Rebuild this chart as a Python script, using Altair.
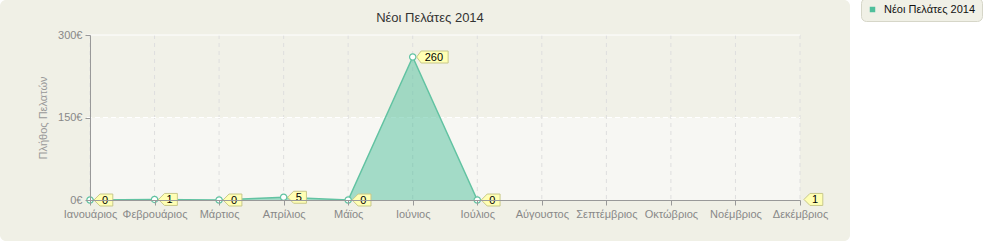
import altair as alt
import pandas as pd

# Monthly new customers for 2014 (Aug–Nov have no entries)
months = ["Ιανουάριος", "Φεβρουάριος", "Μάρτιος", "Απρίλιος", "Μάϊος", "Ιούνιος",
          "Ιούλιος", "Αύγουστος", "Σεπτέμβριος", "Οκτώβριος", "Νοέμβριος", "Δεκέμβριος"]
customers = [0, 1, 0, 5, 0, 260, 0, None, None, None, None, 1]
y_ticks = [0, 150, 300]
band_edges = [0, 150, 300]
series_name = "Νέοι Πελάτες 2014"
y_title = "Πλήθος Πελατών"

FONT = "Liberation Sans"
PANEL = "#f0f0e6"
TEAL_LINE = "#62c3a2"
TEAL = "#4fbf9b"

df = pd.DataFrame({"month": months, "value": customers})
df["has"] = df["value"].notna()
# a point belongs to the drawn line when a neighbour also has a value
df["connected"] = df["has"] & (df["has"].shift(1, fill_value=False) | df["has"].shift(-1, fill_value=False))
line_df = df[df["connected"]].copy()
line_df["series"] = series_name
lab_df = df[df["has"]].copy()
lab_df["text"] = lab_df["value"].astype(int).astype(str)
# callout outline: left-pointing tag, wider for longer numbers
short_tag = "M0.33,0 L0.83,-0.5 L1.9,-0.5 L1.9,0.5 L0.83,0.5 Z"
long_tag = "M0.33,0 L0.7,-0.5 L2.95,-0.5 L2.95,0.5 L0.7,0.5 Z"
lab_df["tag"] = [long_tag if len(t) > 1 else short_tag for t in lab_df["text"]]

bands = pd.DataFrame({"lo": band_edges[:-1], "hi": band_edges[1:],
                      "shade": ["#f7f7f3", "#f1f1e8"]})

x_scale = alt.Scale(type="point", domain=months, padding=0)
y_scale = alt.Scale(domain=[0, 300])
x_axis = alt.Axis(title=None, grid=False, labelAngle=0, zindex=1,
                  domainColor="#999999", tickColor="#999999", tickSize=5,
                  labelColor="#888888", labelFont=FONT, labelFontSize=11,
                  labelPadding=3)
y_axis = alt.Axis(title=y_title, values=y_ticks, grid=False, zindex=1,
                  labelExpr="datum.value + '€'",
                  domainColor="#999999", tickColor="#999999", tickSize=5,
                  labelColor="#888888", labelFont=FONT, labelFontSize=11,
                  labelPadding=3, titleColor="#999999", titleFont=FONT,
                  titleFontSize=11, titleFontWeight="normal", titlePadding=9)


def xm(field="month:N"):
    return alt.X(field, scale=x_scale, sort=months, axis=x_axis)


def yv(field="value:Q"):
    return alt.Y(field, scale=y_scale, axis=y_axis)


panel = alt.Chart(pd.DataFrame({"k": [0]})).mark_rect(
    fill=PANEL, cornerRadius=6
).encode(x=alt.value(-90), x2=alt.value(760), y=alt.value(-35), y2=alt.value(206))

heading = alt.Chart(pd.DataFrame({"t": [series_name]})).mark_text(
    font=FONT, fontSize=13, color="#333333", align="center", baseline="alphabetic"
).encode(x=alt.value(340), y=alt.value(-13), text="t:N")

band_layer = alt.Chart(bands).mark_rect().encode(
    x=alt.value(0), x2=alt.value(710),
    y=yv("lo:Q"), y2="hi:Q",
    fill=alt.Fill("shade:N", scale=None),
)

vgrid = alt.Chart(df).mark_rule(color="#dedede", strokeDash=[4, 4], strokeWidth=1).encode(
    x=xm(), y=alt.value(0), y2=alt.value(165),
)

hgrid = alt.Chart(pd.DataFrame({"v": y_ticks[1:]})).mark_rule(color="#ffffff", strokeWidth=1).encode(
    y=yv("v:Q"),
    x=alt.value(-3), x2=alt.value(710),
    strokeDash=alt.condition("datum.v < 300", alt.value([5, 3]), alt.value([1, 0])),
)

area = alt.Chart(line_df).mark_area(fillOpacity=0.5).encode(
    x=xm(), y=yv(),
    color=alt.Color("series:N", scale=alt.Scale(domain=[series_name], range=[TEAL]),
                    legend=alt.Legend(
                        title=None, orient="none", legendX=771, legendY=-37,
                        symbolType="square", symbolSize=30, symbolOpacity=1,
                        labelFont=FONT, labelFontSize=11,
                        labelColor="#111111", labelOffset=6, padding=6, fillColor=PANEL,
                        strokeColor="#d6d6c8", cornerRadius=5)),
)

line = alt.Chart(line_df).mark_line(color=TEAL_LINE, strokeWidth=1.5).encode(x=xm(), y=yv())

points = alt.Chart(line_df).mark_point(
    shape="circle", size=40, filled=True, fill="#ffffff", stroke=TEAL_LINE, strokeWidth=1.2, opacity=1
).encode(x=xm(), y=yv())

tags = alt.Chart(lab_df).mark_point(
    size=576, filled=True, fill="#ffffb4", stroke="#c8c88a", strokeWidth=1, opacity=1
).encode(x=xm(), y=yv(), shape=alt.Shape("tag:N", scale=None, legend=None))

tag_text = alt.Chart(lab_df).mark_text(
    align="left", baseline="middle", dx=12, dy=0.5, font=FONT, fontSize=11, color="#000000"
).encode(x=xm(), y=yv(), text="text:N")

chart = alt.layer(
    panel, heading, band_layer, vgrid, hgrid, area, line, points, tags, tag_text
).properties(
    width=710, height=165,
    autosize=alt.AutoSizeParams(type="none"),
    padding={"left": 90, "top": 35, "right": 200, "bottom": 45},
).configure(background="#ffffff").configure_view(stroke=None)

chart.save("out.html", embed_options={"renderer": "svg", "actions": False})
